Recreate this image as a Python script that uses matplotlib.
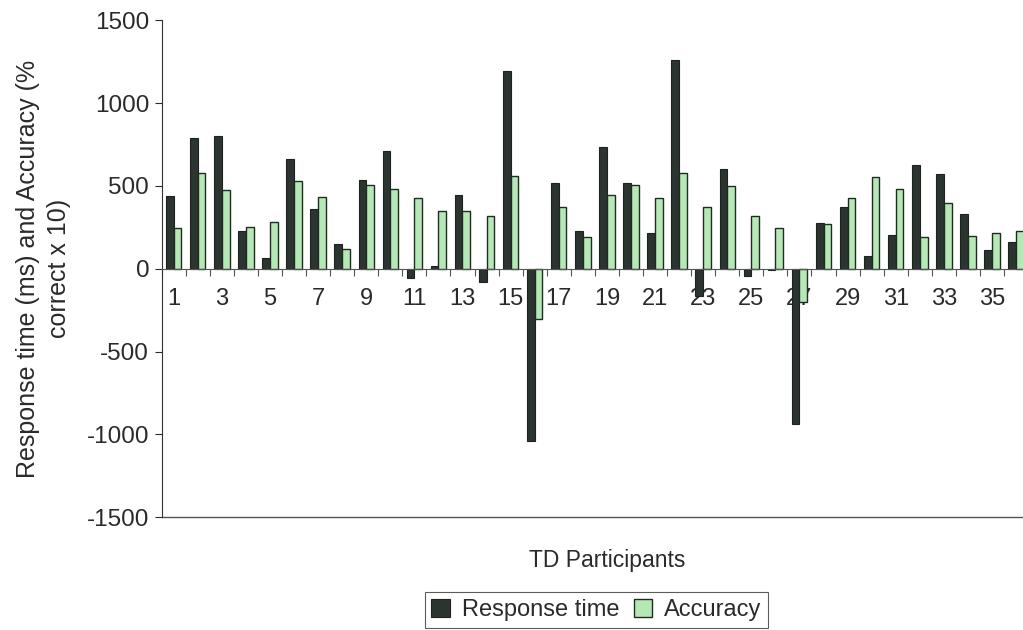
import matplotlib

matplotlib.use("Agg")
import matplotlib.pyplot as plt
import numpy as np

participants = list(range(1, 37))
response_time = [
    441, 788, 798, 225, 62, 660, 361, 152, 534, 708, -55, 16,
    446, -80, 1196, -1040, 518, 228, 736, 515, 213, 1261, -166, 604,
    -42, -8, -940, 277, 371, 76, 201, 627, 573, 333, 112, 159,
]
accuracy = [
    245, 580, 475, 249, 279, 530, 433, 120, 505, 481, 427, 350,
    350, 318, 557, -306, 375, 192, 447, 503, 425, 576, 375, 500,
    319, 245, -200, 269, 429, 551, 481, 193, 399, 199, 217, 227,
]
y_ticks = [-1500, -1000, -500, 0, 500, 1000, 1500]

plt.rcParams["font.family"] = ["Liberation Sans", "DejaVu Sans"]
text_color = "#2a2a2a"

fig = plt.figure(figsize=(10.23, 6.3), dpi=100)
ax = fig.add_axes([0.158, 0.179, 0.847, 0.789])

x = np.array(participants)
width = 0.32
ax.bar(x - width / 2, response_time, width, color="#2c3430",
       edgecolor="#1c231f", linewidth=0.8, label="Response time", zorder=2)
ax.bar(x + width / 2, accuracy, width, color="#b6e8b6",
       edgecolor="#1f2a22", linewidth=1.0, label="Accuracy", zorder=2)

ax.set_xlim(0.5, 36.5)
ax.set_ylim(-1500, 1500)

for side in ("top", "right"):
    ax.spines[side].set_visible(False)
ax.spines["bottom"].set_position(("data", 0))
ax.spines["bottom"].set_color("#555555")
ax.spines["left"].set_color("#333333")
ax.axhline(-1500, color="#555555", linewidth=1.0, clip_on=False)

ax.set_yticks(y_ticks)
ax.set_yticklabels([str(v) for v in y_ticks])
ax.tick_params(axis="y", direction="out", length=5, width=0.8,
               labelsize=17.5, colors=text_color, pad=4)

ax.set_xticks([p for p in participants if p % 2 == 1])
ax.set_xticklabels([str(p) for p in participants if p % 2 == 1])
ax.set_xticks(np.arange(0.5, 37, 1), minor=True)
ax.tick_params(axis="x", which="major", length=0, labelsize=17,
               colors=text_color, pad=14)
ax.tick_params(axis="x", which="minor", direction="out", length=5,
               width=0.8, color="#555555")

ax.set_ylabel("Response time (ms) and Accuracy (%\ncorrect x 10)",
              fontsize=18, color=text_color, labelpad=11,
              linespacing=1.4)

fig.text(0.594, 0.111, "TD Participants", ha="center", va="center",
         fontsize=16.5, color=text_color)

legend = fig.legend(loc="center", bbox_to_anchor=(0.583, 0.032), ncol=2,
                    fontsize=17, frameon=True, fancybox=False,
                    handlelength=0.8, handleheight=0.8, handletextpad=0.5,
                    columnspacing=0.6, borderpad=0.28, borderaxespad=0)
legend.get_frame().set_edgecolor("#333333")
legend.get_frame().set_linewidth(0.8)
for text in legend.get_texts():
    text.set_color(text_color)

fig.savefig("out.png", dpi=100)
